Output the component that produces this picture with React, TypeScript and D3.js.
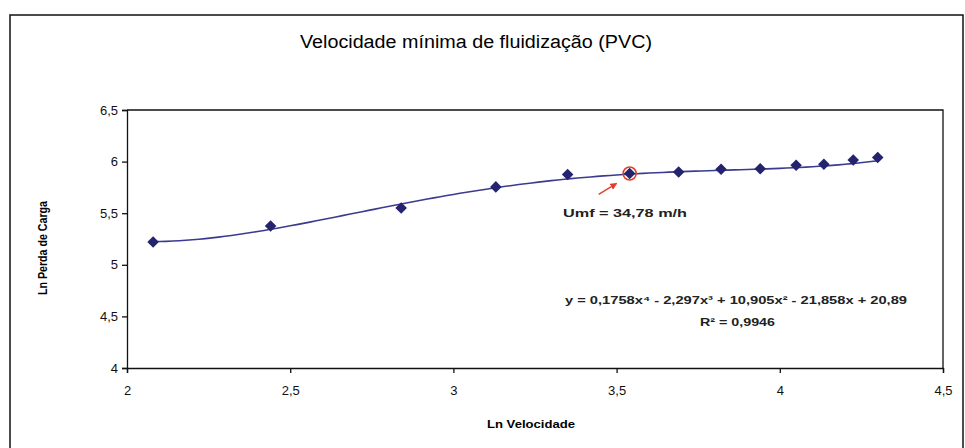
import React, { useEffect, useRef } from 'react';
import * as d3 from 'd3';

// Ln Velocidade vs Ln Perda de Carga (PVC)
const lnVelocidade = [2.08, 2.44, 2.84, 3.13, 3.35, 3.54, 3.69, 3.82, 3.94, 4.05, 4.135, 4.225, 4.30];
const lnPerda = [5.22, 5.375, 5.55, 5.755, 5.875, 5.885, 5.9, 5.925, 5.93, 5.965, 5.975, 6.015, 6.04];
const xTicks = [2, 2.5, 3, 3.5, 4, 4.5];
const yTicks = [4, 4.5, 5, 5.5, 6, 6.5];
// trendline coefficients, highest power first (from the equation label)
const trendCoef = [0.1758, -2.297, 10.905, -21.858, 20.89];
const umfIndex = 5;

const W = 965;
const H = 448;
const FONT = '"Liberation Sans", Arial, sans-serif';
const fmt = (v: number) => String(v).replace('.', ',');

const App = () => {
  const ref = useRef<SVGSVGElement>(null);

  useEffect(() => {
    const svg = d3.select(ref.current);
    svg.selectAll('*').remove();

    const x = d3.scaleLinear().domain([2, 4.5]).range([127, 943]);
    const y = d3.scaleLinear().domain([4, 6.5]).range([368, 110]);

    // outer chart border
    svg.append('rect')
      .attr('x', 10).attr('y', 15)
      .attr('width', 953).attr('height', 460)
      .attr('fill', 'white')
      .attr('stroke', '#111').attr('stroke-width', 1.5);

    svg.append('text')
      .attr('x', 476).attr('y', 48)
      .attr('text-anchor', 'middle')
      .attr('font-family', FONT).attr('font-size', 18)
      .attr('textLength', 352).attr('lengthAdjust', 'spacingAndGlyphs')
      .text('Velocidade mínima de fluidização (PVC)');

    // plot frame (top/right)
    svg.append('path')
      .attr('d', `M${x(2)},${y(6.5)}H${x(4.5)}V${y(4)}`)
      .attr('fill', 'none').attr('stroke', '#111').attr('stroke-width', 1.3);

    const yAxis = svg.append('g')
      .attr('transform', `translate(${x(2)},0)`)
      .call(d3.axisLeft(y).tickValues(yTicks).tickSize(5).tickPadding(4).tickFormat(d => fmt(+d)));
    yAxis.selectAll('text').attr('font-family', FONT).attr('font-size', 13).attr('fill', '#111');
    yAxis.selectAll('line, path').attr('stroke', '#111').attr('stroke-width', 1.3);

    const xAxis = svg.append('g')
      .attr('transform', `translate(0,${y(4)})`)
      .call(d3.axisBottom(x).tickValues(xTicks).tickSize(5).tickPadding(13).tickFormat(d => fmt(+d)));
    xAxis.selectAll('text').attr('font-family', FONT).attr('font-size', 13).attr('fill', '#111');
    xAxis.selectAll('line, path').attr('stroke', '#111').attr('stroke-width', 1.3);

    svg.append('text')
      .attr('x', 531).attr('y', 428)
      .attr('text-anchor', 'middle')
      .attr('font-family', FONT).attr('font-size', 11.5).attr('font-weight', 'bold')
      .attr('textLength', 88).attr('lengthAdjust', 'spacingAndGlyphs')
      .text('Ln Velocidade');

    svg.append('text')
      .attr('transform', `translate(47,248) rotate(-90)`)
      .attr('text-anchor', 'middle')
      .attr('font-family', FONT).attr('font-size', 12).attr('font-weight', 'bold')
      .attr('textLength', 94).attr('lengthAdjust', 'spacingAndGlyphs')
      .text('Ln Perda de Carga');

    // polynomial trendline
    const poly = (v: number) => trendCoef.reduce((acc, c) => acc * v + c, 0);
    const xs = d3.range(lnVelocidade[0], lnVelocidade[lnVelocidade.length - 1] + 0.001, 0.02);
    svg.append('path')
      .datum(xs)
      .attr('fill', 'none')
      .attr('stroke', '#3b3b8f')
      .attr('stroke-width', 1.6)
      .attr('d', d3.line<number>().x(d => x(d)).y(d => y(poly(d))));

    const pts = lnVelocidade.map((v, i) => [v, lnPerda[i]]);
    svg.append('g')
      .selectAll('path')
      .data(pts)
      .join('path')
      .attr('transform', d => `translate(${x(d[0])},${y(d[1])})`)
      .attr('d', d3.symbol(d3.symbolDiamond2, 85)())
      .attr('fill', '#23236e');

    // Umf marker
    const ux = x(lnVelocidade[umfIndex]);
    const uy = y(lnPerda[umfIndex]);
    svg.append('circle')
      .attr('cx', ux).attr('cy', uy).attr('r', 6.5)
      .attr('fill', 'none').attr('stroke', '#e0402a').attr('stroke-width', 1.6);

    svg.append('defs').append('marker')
      .attr('id', 'arr').attr('viewBox', '0 0 10 10')
      .attr('refX', 9).attr('refY', 5)
      .attr('markerWidth', 5).attr('markerHeight', 5)
      .attr('orient', 'auto')
      .append('path').attr('d', 'M0,0L10,5L0,10z').attr('fill', '#e0402a');

    svg.append('line')
      .attr('x1', ux - 31).attr('y1', uy + 21)
      .attr('x2', ux - 13).attr('y2', uy + 10)
      .attr('stroke', '#e0402a').attr('stroke-width', 1.4)
      .attr('marker-end', 'url(#arr)');

    svg.append('text')
      .attr('x', 563).attr('y', 217)
      .attr('font-family', FONT).attr('font-size', 11.5).attr('font-weight', 'bold')
      .attr('fill', '#222')
      .attr('textLength', 124).attr('lengthAdjust', 'spacingAndGlyphs')
      .text('Umf = 34,78 m/h');

    const c = trendCoef.map(fmt);
    svg.append('text')
      .attr('x', 565).attr('y', 304)
      .attr('font-family', FONT).attr('font-size', 10.5).attr('font-weight', 'bold')
      .attr('fill', '#222')
      .attr('textLength', 342).attr('lengthAdjust', 'spacingAndGlyphs')
      .text(`y = ${c[0]}x⁴ - ${c[1].replace('-', '')}x³ + ${c[2]}x² - ${c[3].replace('-', '')}x + ${c[4]}`);

    svg.append('text')
      .attr('x', 700).attr('y', 326)
      .attr('font-family', FONT).attr('font-size', 10.5).attr('font-weight', 'bold')
      .attr('fill', '#222')
      .attr('textLength', 75).attr('lengthAdjust', 'spacingAndGlyphs')
      .text('R² = 0,9946');
  }, []);

  return (
    <svg ref={ref} width={W} height={H} style={{ position: 'absolute', left: 0, top: 0, background: 'white' }} />
  );
};

export default App;
